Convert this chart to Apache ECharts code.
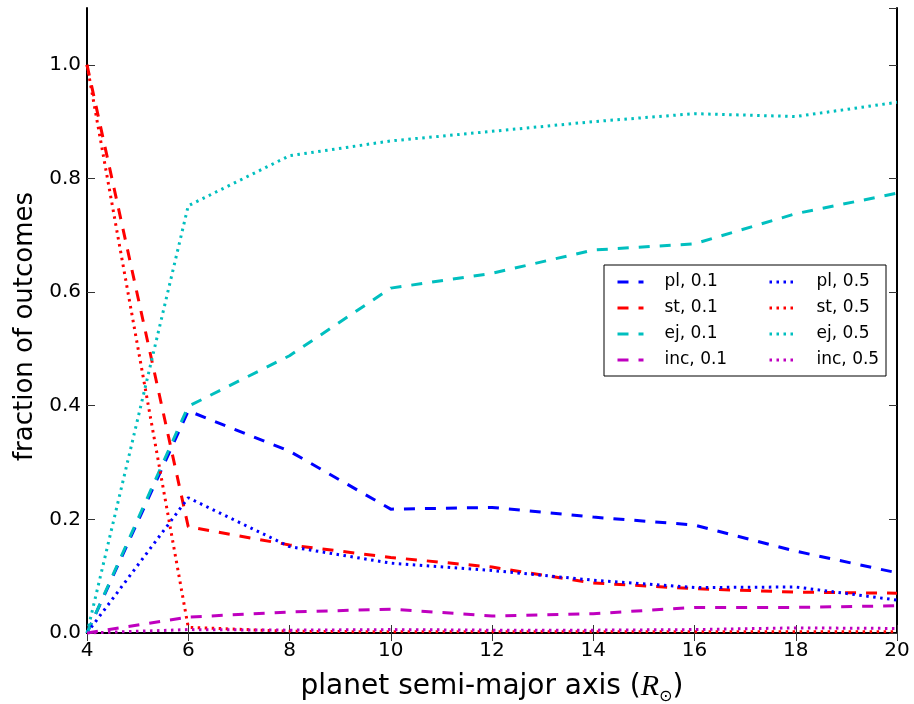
<!DOCTYPE html>
<html>
<head>
<meta charset="utf-8">
<script src="https://cdn.jsdelivr.net/npm/echarts@6/dist/echarts.min.js"></script>
<style>
  html, body { margin: 0; padding: 0; background: #fff; }
  #chart { width: 914px; height: 704px; }
</style>
</head>
<body>
<div id="chart"></div>
<script>
// semi-major axis values (R_sun)
var axisVals = [4, 6, 8, 10, 12, 14, 16, 18, 20];

// outcome fractions, 0.1 case
var pl01  = [0, 0.391, 0.320, 0.218, 0.221, 0.204, 0.190, 0.144, 0.106];
var st01  = [1.0, 0.187, 0.155, 0.133, 0.116, 0.088, 0.078, 0.072, 0.070];
var ej01  = [0, 0.399, 0.488, 0.607, 0.633, 0.674, 0.685, 0.738, 0.774];
var inc01 = [0, 0.028, 0.037, 0.042, 0.030, 0.034, 0.045, 0.045, 0.048];

// outcome fractions, 0.5 case
var pl05  = [0, 0.238, 0.152, 0.123, 0.110, 0.093, 0.080, 0.081, 0.058];
var st05  = [1.0, 0.010, 0.003, 0.002, 0.002, 0.002, 0.002, 0.002, 0.002];
var ej05  = [0, 0.752, 0.840, 0.866, 0.883, 0.900, 0.914, 0.909, 0.934];
var inc05 = [0, 0.006, 0.005, 0.006, 0.005, 0.005, 0.006, 0.009, 0.008];

var FONT = 'DejaVu Sans';
var DASH = [11, 10];
var DOT = [2.5, 4.5];

function pairs(ys) {
  var out = [];
  for (var i = 0; i < axisVals.length; i++) {
    out.push([axisVals[i], ys[i]]);
  }
  return out;
}

function line(name, ys, color, dash) {
  return {
    name: name,
    type: 'line',
    data: pairs(ys),
    symbol: 'none',
    smooth: false,
    silent: true,
    lineStyle: { color: color, width: 3, type: dash, cap: 'butt' },
    itemStyle: { color: color }
  };
}

var chart = echarts.init(document.getElementById('chart'), null, { renderer: 'canvas' });

var tickStyle = { show: true, inside: true, length: 8, lineStyle: { color: '#333', width: 1 } };
var axisLine = { show: true, lineStyle: { color: '#000', width: 2 } };

var legendText = { fontFamily: FONT, fontSize: 17, color: '#000', lineHeight: 20, padding: [0, 0, 0, 16] };
// hide the round marker that the legend would draw on top of the line sample
var legendMarker = { color: 'transparent', borderWidth: 0, opacity: 0 };
var legendLine = { width: 3 };

var option = {
  backgroundColor: '#ffffff',
  animation: false,
  grid: { left: 87, right: 17, top: 8, bottom: 71, containLabel: false, outerBoundsMode: 'none' },
  xAxis: [{
    type: 'value',
    min: 4, max: 20, interval: 2,
    position: 'bottom',
    axisLine: axisLine,
    axisTick: tickStyle,
    splitLine: { show: false },
    axisLabel: { fontFamily: FONT, fontSize: 20, color: '#000', margin: 8 },
    name: 'planet semi-major axis ({i|R}{sub|⊙})',
    nameLocation: 'middle',
    nameGap: 36,
    nameTextStyle: {
      fontFamily: FONT, fontSize: 28, color: '#000', lineHeight: 36,
      rich: {
        i: { fontFamily: 'Liberation Serif', fontStyle: 'italic', fontSize: 30, color: '#000', lineHeight: 36 },
        sub: { fontFamily: FONT, fontSize: 16, color: '#000', verticalAlign: 'bottom', lineHeight: 17 }
      }
    }
  }, {
    type: 'value',
    min: 4, max: 20, interval: 2,
    position: 'top',
    axisLine: axisLine,
    axisTick: tickStyle,
    splitLine: { show: false },
    axisLabel: { show: false }
  }],
  yAxis: [{
    type: 'value',
    min: 0, max: 1.1, interval: 0.2,
    position: 'left',
    axisLine: axisLine,
    axisTick: tickStyle,
    splitLine: { show: false },
    axisLabel: {
      fontFamily: FONT, fontSize: 20, color: '#000', margin: 6,
      showMaxLabel: false,
      formatter: function (v) { return v.toFixed(1); }
    },
    name: 'fraction of outcomes',
    nameLocation: 'middle',
    nameRotate: 90,
    nameGap: 48,
    nameTextStyle: { fontFamily: FONT, fontSize: 26, color: '#000', padding: [0, 12, 0, 0] }
  }, {
    type: 'value',
    min: 0, max: 1.1, interval: 0.2,
    position: 'right',
    axisLine: axisLine,
    axisTick: tickStyle,
    splitLine: { show: false },
    axisLabel: { show: false }
  }],
  legend: [{
    data: ['pl, 0.1', 'st, 0.1', 'ej, 0.1', 'inc, 0.1'],
    orient: 'vertical',
    left: 616, top: 272,
    padding: 0,
    itemGap: 6,
    itemWidth: 26, itemHeight: 14,
    itemStyle: legendMarker,
    lineStyle: legendLine,
    textStyle: legendText,
    selectedMode: false
  }, {
    data: ['pl, 0.5', 'st, 0.5', 'ej, 0.5', 'inc, 0.5'],
    orient: 'vertical',
    left: 768, top: 272,
    padding: 0,
    itemGap: 6,
    itemWidth: 26, itemHeight: 14,
    itemStyle: legendMarker,
    lineStyle: legendLine,
    textStyle: legendText,
    selectedMode: false
  }],
  graphic: [{
    type: 'rect',
    silent: true,
    z: 100,
    shape: { x: 604, y: 265, width: 282, height: 111 },
    style: { fill: null, stroke: '#000', lineWidth: 1 }
  }],
  series: [
    line('pl, 0.1', pl01, '#0000ff', DASH),
    line('st, 0.1', st01, '#ff0000', DASH),
    line('ej, 0.1', ej01, '#00bfbf', DASH),
    line('inc, 0.1', inc01, '#bf00bf', DASH),
    line('pl, 0.5', pl05, '#0000ff', DOT),
    line('st, 0.5', st05, '#ff0000', DOT),
    line('ej, 0.5', ej05, '#00bfbf', DOT),
    line('inc, 0.5', inc05, '#bf00bf', DOT)
  ]
};

chart.setOption(option);
</script>
</body>
</html>
